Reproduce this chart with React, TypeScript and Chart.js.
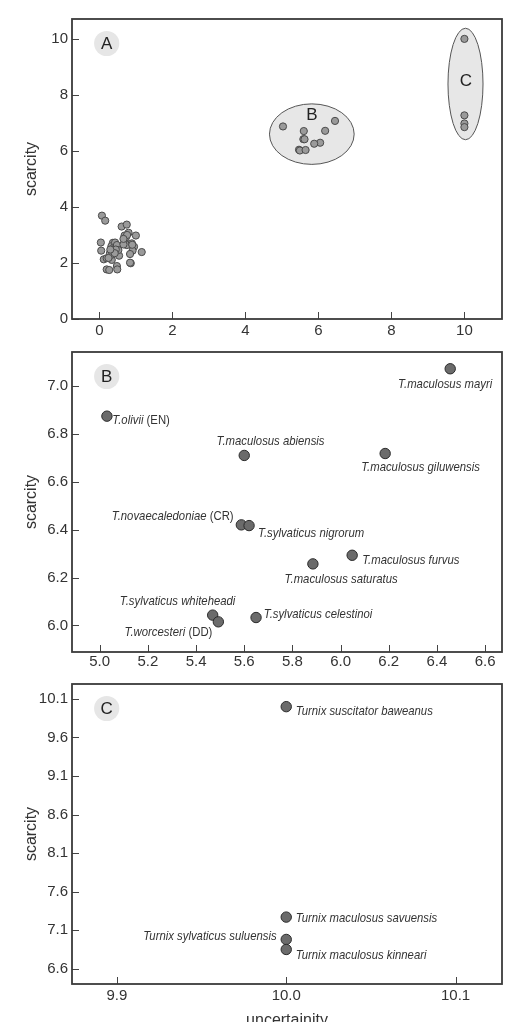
import React, { useEffect, useRef } from "react";
import { Chart, registerables } from "chart.js";

Chart.register(...registerables);

const FONT = "'Liberation Sans', Arial, Helvetica, sans-serif";
const SQ = 0.84; // horizontal squeeze for the narrow italic name labels

// ---------- Panel A: overview ----------
const clusterAX = [0.07, 0.16, 0.61, 0.75, 0.69, 0.8, 1.0, 0.04, 0.05, 0.12, 0.2, 0.29, 0.34, 0.37, 0.33, 0.4, 0.43, 0.48, 0.38, 0.29, 0.54, 0.52, 0.7, 0.75, 0.66, 0.89, 0.95, 0.91, 0.84, 1.16, 0.86, 0.84, 0.2, 0.27, 0.48, 0.49, 0.73, 0.45, 0.35, 0.25, 0.42, 0.76, 0.66, 0.9, 0.3];
const clusterAY = [3.69, 3.51, 3.3, 3.37, 2.98, 3.08, 2.98, 2.73, 2.44, 2.13, 2.17, 2.23, 2.11, 2.72, 2.6, 2.56, 2.73, 2.64, 2.4, 2.35, 2.26, 2.46, 2.76, 2.64, 2.66, 2.7, 2.58, 2.44, 2.32, 2.39, 1.99, 2.01, 1.77, 1.75, 1.89, 1.77, 2.92, 2.48, 2.3, 2.18, 2.35, 3.0, 2.86, 2.65, 2.48];

// ---------- Panel B ----------
const groupBNames = ["T.olivii", "T.maculosus abiensis", "T.maculosus mayri", "T.maculosus giluwensis", "T.novaecaledoniae", "T.sylvaticus nigrorum", "T.maculosus furvus", "T.maculosus saturatus", "T.sylvaticus whiteheadi", "T.worcesteri", "T.sylvaticus celestinoi"];
const groupBStatus = ["(EN)", "", "", "", "(CR)", "", "", "", "", "(DD)", ""];
const groupBX = [5.03, 5.6, 6.455, 6.185, 5.588, 5.62, 6.048, 5.885, 5.469, 5.4925, 5.649];
const groupBY = [6.874, 6.71, 7.072, 6.718, 6.42, 6.417, 6.293, 6.257, 6.043, 6.015, 6.033];

// ---------- Panel C ----------
const groupCNames = ["Turnix suscitator baweanus", "Turnix maculosus savuensis", "Turnix sylvaticus suluensis", "Turnix maculosus kinneari"];
const groupCStatus = ["", "", "", ""];
const groupCX = [10.0, 10.0, 10.0, 10.0];
const groupCY = [10.0, 7.27, 6.98, 6.85];

// ---------- tick labels ----------
const ticksAX = [0, 2, 4, 6, 8, 10];
const ticksAY = [0, 2, 4, 6, 8, 10];
const ticksBX = [5.0, 5.2, 5.4, 5.6, 5.8, 6.0, 6.2, 6.4, 6.6];
const ticksBY = [6.0, 6.2, 6.4, 6.6, 6.8, 7.0];
const ticksCX = [9.9, 10.0, 10.1];
const ticksCY = [6.6, 7.1, 7.6, 8.1, 8.6, 9.1, 9.6, 10.1];

// ---------- group outlines in panel A (data units) ----------
const ellipseLetters = ["B", "C"];
const ellipseCX = [5.82, 10.03];
const ellipseCY = [6.6, 8.39];
const ellipseRX = [1.16, 0.48];
const ellipseRY = [1.08, 1.99];
const ellipseLetterX = [5.82, 10.04];
const ellipseLetterY = [7.26, 8.5];

// ---------- label placement (pixel offsets from point, alignment) ----------
const placeB: [number, number, string][] = [
  [5.4, 4, "left"],
  [-27.7, -14, "left"],
  [42, 15, "right"],
  [-24, 14, "left"],
  [-7.7, -8.3, "right"],
  [9, 7.6, "left"],
  [10, 5.4, "left"],
  [-28.3, 15, "left"],
  [22.7, -13.6, "right"],
  [-6, 10.7, "right"],
  [7.7, -3.4, "left"],
];
const placeC: [number, number, string][] = [
  [9.4, 4.7, "left"],
  [9.4, 1, "left"],
  [-9.6, -3.3, "right"],
  [9.4, 5.3, "left"],
];

const decorPlugin = {
  id: "panelDecor",
  beforeDatasetsDraw(chart: any, _a: any, opts: any) {
    const ctx = chart.ctx;
    const xs = chart.scales.x;
    const ys = chart.scales.y;
    const area = chart.chartArea;
    ctx.save();
    // ellipses
    if (opts.ellipses) {
      for (let i = 0; i < ellipseCX.length; i++) {
        const cx = xs.getPixelForValue(ellipseCX[i]);
        const cy = ys.getPixelForValue(ellipseCY[i]);
        const rx = Math.abs(xs.getPixelForValue(ellipseCX[i] + ellipseRX[i]) - cx);
        const ry = Math.abs(ys.getPixelForValue(ellipseCY[i] + ellipseRY[i]) - cy);
        ctx.beginPath();
        ctx.ellipse(cx, cy, rx, ry, 0, 0, Math.PI * 2);
        ctx.fillStyle = "#e7e7e7";
        ctx.fill();
        ctx.lineWidth = 1;
        ctx.strokeStyle = "#555";
        ctx.stroke();
        ctx.fillStyle = "#222";
        ctx.font = `17px ${FONT}`;
        ctx.textAlign = "center";
        ctx.textBaseline = "middle";
        ctx.fillText(ellipseLetters[i], xs.getPixelForValue(ellipseLetterX[i]), ys.getPixelForValue(ellipseLetterY[i]));
      }
    }
    // panel badge
    const bx = area.left + 34.7;
    const by = area.top + 24.5;
    ctx.beginPath();
    ctx.arc(bx, by, 12.6, 0, Math.PI * 2);
    ctx.fillStyle = "#e6e6e6";
    ctx.fill();
    ctx.fillStyle = "#222";
    ctx.font = `17px ${FONT}`;
    ctx.textAlign = "center";
    ctx.textBaseline = "middle";
    ctx.fillText(opts.letter, bx, by + 1);
    ctx.restore();
  },
  afterDraw(chart: any) {
    const ctx = chart.ctx;
    const { left, right, top, bottom } = chart.chartArea;
    const xs = chart.scales.x;
    const ys = chart.scales.y;
    ctx.save();
    ctx.strokeStyle = "#444";
    ctx.lineWidth = 1;
    for (const t of xs.ticks) {
      const px = Math.round(xs.getPixelForValue(t.value)) + 0.5;
      ctx.beginPath();
      ctx.moveTo(px, bottom);
      ctx.lineTo(px, bottom - 7);
      ctx.stroke();
    }
    for (const t of ys.ticks) {
      const py = Math.round(ys.getPixelForValue(t.value)) + 0.5;
      ctx.beginPath();
      ctx.moveTo(left, py);
      ctx.lineTo(left + 7, py);
      ctx.stroke();
    }
    ctx.lineWidth = 1.8;
    ctx.strokeStyle = "#3a3a3a";
    ctx.strokeRect(left, top, right - left, bottom - top);
    ctx.restore();
  },
};

const namesPlugin = {
  id: "pointNames",
  afterDatasetsDraw(chart: any, _a: any, opts: any) {
    if (!opts || !opts.names) return;
    const meta = chart.getDatasetMeta(0);
    const ctx = chart.ctx;
    ctx.save();
    ctx.fillStyle = "#333";
    ctx.textBaseline = "middle";
    ctx.textAlign = "left";
    const italic = `italic 13.5px ${FONT}`;
    const normal = `13.5px ${FONT}`;
    opts.names.forEach((name: string, i: number) => {
      const el = meta.data[i];
      if (!el) return;
      const [dx, dy, align] = opts.place[i];
      const suffix = opts.status[i] || "";
      ctx.font = italic;
      const w1 = ctx.measureText(name).width;
      ctx.font = normal;
      const w2 = suffix ? ctx.measureText(" " + suffix).width : 0;
      const total = (w1 + w2) * SQ;
      let x0 = el.x + dx;
      if (align === "right") x0 -= total;
      const y = el.y + dy;
      ctx.save();
      ctx.translate(x0, y);
      ctx.scale(SQ, 1);
      ctx.font = italic;
      ctx.fillText(name, 0, 0);
      if (suffix) {
        ctx.font = normal;
        ctx.fillText(" " + suffix, w1, 0);
      }
      ctx.restore();
    });
    ctx.restore();
  },
};

type PanelSpec = {
  xs: number[];
  ys: number[];
  xMin: number;
  xMax: number;
  yMin: number;
  yMax: number;
  xTicks: number[];
  yTicks: number[];
  xDec: number;
  yDec: number;
  padTop: number;
  xHeight: number;
  xPad: number;
  letter: string;
  ellipses: boolean;
  radius: number;
  fill: string;
  border: string;
  names?: string[];
  status?: string[];
  place?: [number, number, string][];
  xTitle?: string;
};

function makeConfig(p: PanelSpec): any {
  return {
    type: "scatter",
    data: {
      datasets: [
        {
          data: p.xs.map((x, i) => ({ x, y: p.ys[i] })),
          pointRadius: p.radius,
          pointHoverRadius: p.radius,
          backgroundColor: p.fill,
          borderColor: p.border,
          borderWidth: 1,
        },
      ],
    },
    options: {
      responsive: false,
      animation: false,
      events: [],
      layout: { padding: { top: p.padTop, right: 8, left: 0, bottom: 0 } },
      plugins: {
        legend: { display: false },
        tooltip: { enabled: false },
        panelDecor: { letter: p.letter, ellipses: p.ellipses },
        pointNames: p.names ? { names: p.names, status: p.status, place: p.place } : {},
      },
      scales: {
        x: {
          type: "linear",
          min: p.xMin,
          max: p.xMax,
          grid: { display: false, drawTicks: false },
          border: { display: false },
          afterBuildTicks: (s: any) => {
            s.ticks = p.xTicks.map((v) => ({ value: v }));
          },
          afterFit: (s: any) => {
            s.height = p.xHeight;
            s.paddingLeft = 0;
            s.paddingRight = 0;
          },
          ticks: {
            padding: p.xPad,
            color: "#333",
            autoSkip: false,
            maxRotation: 0,
            font: { family: FONT, size: 15 },
            callback: (v: any) => Number(v).toFixed(p.xDec),
          },
          title: p.xTitle
            ? {
                display: true,
                text: p.xTitle,
                color: "#333",
                font: { family: FONT, size: 16 },
                padding: { top: 0, bottom: 9.4 },
              }
            : { display: false },
        },
        y: {
          type: "linear",
          min: p.yMin,
          max: p.yMax,
          grid: { display: false, drawTicks: false },
          border: { display: false },
          afterBuildTicks: (s: any) => {
            s.ticks = p.yTicks.map((v) => ({ value: v }));
          },
          afterFit: (s: any) => {
            s.width = 72;
            s.paddingTop = 0;
            s.paddingBottom = 0;
          },
          ticks: {
            padding: 4,
            color: "#333",
            autoSkip: false,
            font: { family: FONT, size: 15 },
            callback: (v: any) => Number(v).toFixed(p.yDec),
          },
          title: {
            display: true,
            text: "scarcity",
            color: "#333",
            font: { family: FONT, size: 16 },
            padding: { top: 22, bottom: 0 },
          },
        },
      },
    },
    plugins: [decorPlugin, namesPlugin],
  };
}

const panelA: PanelSpec = {
  xs: [...clusterAX, ...groupBX, ...groupCX],
  ys: [...clusterAY, ...groupBY, ...groupCY],
  xMin: -0.75,
  xMax: 11.03,
  yMin: 0,
  yMax: 10.71,
  xTicks: ticksAX,
  yTicks: ticksAY,
  xDec: 0,
  yDec: 0,
  padTop: 19,
  xHeight: 21,
  xPad: 3,
  letter: "A",
  ellipses: true,
  radius: 3.6,
  fill: "#9a9a9a",
  border: "#4a4a4a",
};

const panelB: PanelSpec = {
  xs: groupBX,
  ys: groupBY,
  xMin: 4.885,
  xMax: 6.67,
  yMin: 5.889,
  yMax: 7.142,
  xTicks: ticksBX,
  yTicks: ticksBY,
  xDec: 1,
  yDec: 1,
  padTop: 12,
  xHeight: 18,
  xPad: 1,
  letter: "B",
  ellipses: false,
  radius: 5.2,
  fill: "#6b6b6b",
  border: "#2a2a2a",
  names: groupBNames,
  status: groupBStatus,
  place: placeB,
};

const panelC: PanelSpec = {
  xs: groupCX,
  ys: groupCY,
  xMin: 9.8735,
  xMax: 10.1274,
  yMin: 6.402,
  yMax: 10.294,
  xTicks: ticksCX,
  yTicks: ticksCY,
  xDec: 1,
  yDec: 1,
  padTop: 14,
  xHeight: 56,
  xPad: 3,
  letter: "C",
  ellipses: false,
  radius: 5.2,
  fill: "#6b6b6b",
  border: "#2a2a2a",
  names: groupCNames,
  status: groupCStatus,
  place: placeC,
  xTitle: "uncertainity",
};

function Panel({ spec, top, height }: { spec: PanelSpec; top: number; height: number }) {
  const ref = useRef<HTMLCanvasElement | null>(null);
  useEffect(() => {
    if (!ref.current) return;
    const chart = new Chart(ref.current, makeConfig(spec));
    return () => chart.destroy();
  }, [spec]);
  return (
    <canvas
      ref={ref}
      width={510}
      height={height}
      style={{ position: "absolute", left: 0, top, width: 510, height, display: "block" }}
    />
  );
}

export default function App() {
  return (
    <div
      style={{
        position: "fixed",
        left: 0,
        top: 0,
        width: 510,
        height: 1022,
        overflow: "hidden",
        background: "#ffffff",
      }}
    >
      <Panel spec={panelA} top={0} height={340} />
      <Panel spec={panelB} top={340} height={330} />
      <Panel spec={panelC} top={670} height={370} />
    </div>
  );
}
